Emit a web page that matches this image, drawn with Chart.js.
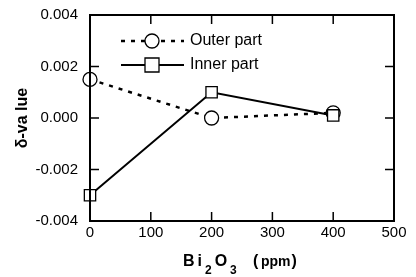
<!DOCTYPE html>
<html>
<head>
<meta charset="utf-8">
<script src="https://cdn.jsdelivr.net/npm/chart.js@4"></script>
<style>
  html, body { margin: 0; padding: 0; background: #fff; }
  #wrap { width: 416px; height: 277px; position: relative; }
</style>
</head>
<body>
<div id="wrap"><canvas id="grafico"></canvas></div>
<script>
// --- dados ---
const concentracoes = [0, 200, 400];
const parteExterna = [0.0015, 0.0000, 0.0002];
const parteInterna = [-0.0030, 0.0010, 0.0001];
const ticksX = [0, 100, 200, 300, 400, 500];
const ticksY = [-0.004, -0.002, 0.000, 0.002, 0.004];
const nomesSeries = ['Outer part', 'Inner part'];

const fonte = '"Liberation Sans", Arial, sans-serif';

// escreve caractere por caractere com espaçamento extra
function textoEspacado(ctx, partes, x, base, espaco, tam) {
    partes.forEach(([t, sub]) => {
        ctx.font = sub ? 'bold 12px ' + fonte : 'bold ' + tam + 'px ' + fonte;
        for (const c of t) {
            ctx.fillText(c, x, sub ? base + 8 : base);
            x += ctx.measureText(c).width + espaco;
        }
    });
    return x;
}

// moldura, ticks para dentro, legenda e títulos dos eixos
const molduraPlugin = {
    id: 'moldura',
    afterDraw(chart) {
        const ctx = chart.ctx;
        const a = chart.chartArea;
        const sx = chart.scales.x, sy = chart.scales.y;
        ctx.save();
        ctx.strokeStyle = '#000';
        ctx.lineWidth = 2;
        ctx.strokeRect(a.left, a.top, a.right - a.left, a.bottom - a.top);

        ctx.lineWidth = 1.5;
        ctx.beginPath();
        ticksX.forEach(v => {
            const px = sx.getPixelForValue(v);
            ctx.moveTo(px, a.bottom); ctx.lineTo(px, a.bottom - 9);
            ctx.moveTo(px, a.top); ctx.lineTo(px, a.top + 9);
        });
        ticksY.forEach(v => {
            const py = sy.getPixelForValue(v);
            ctx.moveTo(a.left, py); ctx.lineTo(a.left + 9, py);
            ctx.moveTo(a.right, py); ctx.lineTo(a.right - 9, py);
        });
        ctx.stroke();

        // legenda
        const ds = chart.data.datasets;
        const linhasY = [41, 65];
        ds.forEach((d, i) => {
            const y = linhasY[i];
            ctx.strokeStyle = '#000';
            ctx.lineWidth = d.borderWidth;
            ctx.setLineDash(d.borderDash || []);
            ctx.beginPath();
            ctx.moveTo(121, y); ctx.lineTo(184, y);
            ctx.stroke();
            ctx.setLineDash([]);
            ctx.lineWidth = 1.3;
            ctx.fillStyle = '#fff';
            ctx.beginPath();
            if (d.pointStyle === 'rect') {
                ctx.rect(152 - 7, y - 7, 14, 14);
            } else {
                ctx.arc(152, y, 7, 0, Math.PI * 2);
            }
            ctx.fill();
            ctx.stroke();
            ctx.fillStyle = '#000';
            ctx.font = '16px ' + fonte;
            ctx.textBaseline = 'middle';
            ctx.textAlign = 'left';
            ctx.fillText(d.label, 190, y);
        });

        // título do eixo y
        ctx.save();
        ctx.translate(23, 118);
        ctx.rotate(-Math.PI / 2);
        ctx.font = 'bold 16px ' + fonte;
        ctx.textAlign = 'center';
        ctx.textBaseline = 'middle';
        ctx.fillText('δ-va lue', 0, 0);
        ctx.restore();

        // título do eixo x com subscritos
        ctx.textAlign = 'left';
        ctx.textBaseline = 'alphabetic';
        textoEspacado(ctx, [['Bi', 0], ['2', 1], ['O', 0], ['3', 1]], 183, 266, 3, 16);
        ctx.font = 'bold 16px ' + fonte;
        ctx.fillText('(', 253, 266);
        const fim = textoEspacado(ctx, [['ppm', 0]], 261, 266, 0, 14);
        ctx.font = 'bold 16px ' + fonte;
        ctx.fillText(')', fim + 1, 266);
        ctx.restore();
    }
};

const ctx = document.getElementById('grafico').getContext('2d');
const grafico = new Chart(ctx, {
    type: 'line',
    data: {
        datasets: [
            {
                label: nomesSeries[0],
                data: concentracoes.map((c, i) => ({ x: c, y: parteExterna[i] })),
                borderColor: '#000',
                backgroundColor: '#fff',
                borderWidth: 2.5,
                borderDash: [4, 6],
                pointStyle: 'circle',
                pointRadius: 7,
                pointBorderWidth: 1.3,
                pointBackgroundColor: '#fff',
                pointBorderColor: '#000',
                clip: false,
                order: 2
            },
            {
                label: nomesSeries[1],
                data: concentracoes.map((c, i) => ({ x: c, y: parteInterna[i] })),
                borderColor: '#000',
                backgroundColor: '#fff',
                borderWidth: 2,
                pointStyle: 'rect',
                pointRadius: 8,
                pointBorderWidth: 1.3,
                pointBackgroundColor: '#fff',
                pointBorderColor: '#000',
                clip: false,
                order: 1
            }
        ]
    },
    options: {
        responsive: true,
        maintainAspectRatio: false,
        animation: false,
        layout: { padding: { top: 15, right: 22, left: 0, bottom: 0 } },
        plugins: { legend: { display: false }, tooltip: { enabled: false } },
        scales: {
            x: {
                type: 'linear',
                min: 0, max: 500,
                afterFit: s => { s.height = 56; s.paddingLeft = 0; s.paddingRight = 0; },
                afterBuildTicks: s => { s.ticks = ticksX.map(v => ({ value: v })); },
                grid: { display: false, drawTicks: false },
                border: { display: false },
                ticks: { color: '#000', padding: 3, font: { family: fonte, size: 15 } }
            },
            y: {
                min: -0.004, max: 0.004,
                afterFit: s => { s.width = 90; s.paddingTop = 0; s.paddingBottom = 0; },
                afterBuildTicks: s => { s.ticks = ticksY.map(v => ({ value: v })); },
                grid: { display: false, drawTicks: false },
                border: { display: false },
                ticks: {
                    color: '#000', padding: 12,
                    font: { family: fonte, size: 15 },
                    callback: v => v.toFixed(3)
                }
            }
        }
    },
    plugins: [molduraPlugin]
});
</script>
</body>
</html>
